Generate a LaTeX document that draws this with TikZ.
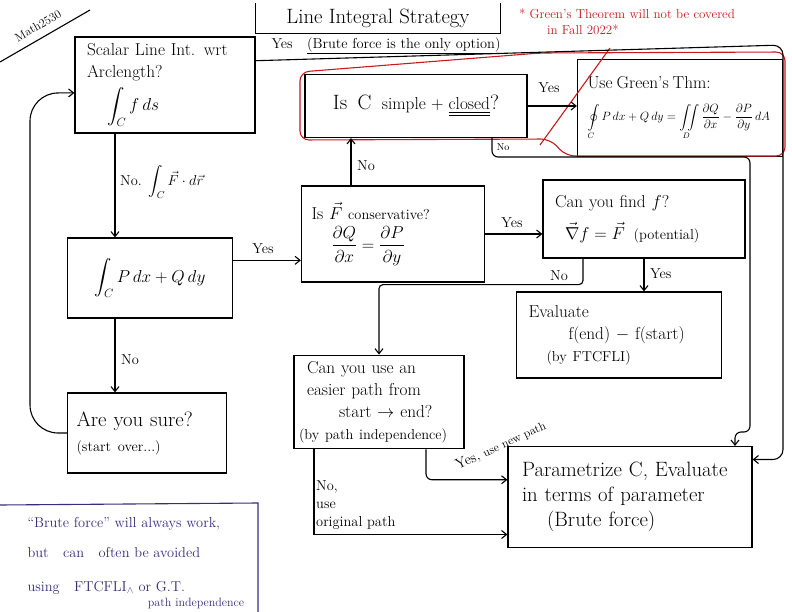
\documentclass[tikz,border=0pt]{standalone}
\usepackage{amsmath}
\usetikzlibrary{arrows.meta}
\definecolor{greenred}{RGB}{200,25,30}
\definecolor{notecolor}{RGB}{55,45,125}
\begin{document}
\begin{tikzpicture}[x=1pt,y=-1pt]
\tikzstyle{box} = [draw, line width=1.2pt, inner sep=6pt, inner xsep=12pt, align=left]
\tikzstyle{arrow} = [-{Straight Barb[length=5pt,width=8pt]}, line width=1.1pt]
\tikzstyle{lab} = [font=\Large, inner sep=1pt]

\useasboundingbox (0,0) rectangle (792,612);

\node[rotate=30, font=\large] (course) at (38,26) {Math2530};
\draw[line width=1.1pt] (0,62) -- (90,10);

\node[minimum width=245, minimum height=30, font=\huge] (title) at (378,18) {Line Integral Strategy};
\draw[line width=1.1pt] (title.north west) |- (title.south east) -- (title.north east);

\node[text=greenred, font=\fontsize{13}{16}\selectfont, align=left] (gnote) at (627,22) {* Green's Theorem will not be covered\\ \hspace*{28pt}in Fall 2022*};

\node[box, minimum width=180, minimum height=96, text width=156, font=\LARGE] (A) at (165,85) {Scalar Line Int. wrt\\ Arclength?\\[5pt] \hspace*{20pt}$\displaystyle\int_C f\,ds$};
\node[box, minimum width=222, minimum height=63, font=\huge] (B) at (416,106) {Is\enspace C\enspace {\LARGE simple + \underline{\underline{closed}}}?};
\node[box, minimum width=205, minimum height=97, text width=185, inner xsep=8pt, font=\large] (C) at (680,108) {{\LARGE Use Green's Thm:}\\[14pt] $\displaystyle\oint\limits_C P\,dx+Q\,dy = \iint\limits_D \frac{\partial Q}{\partial x}-\frac{\partial P}{\partial y}\,dA$};
\node[box, minimum width=183, minimum height=96, text width=163, inner xsep=10pt, font=\LARGE] (D) at (393,234) {Is $\vec F$ {\Large conservative?}\\[6pt] \hspace*{20pt}$\displaystyle\frac{\partial Q}{\partial x} = \frac{\partial P}{\partial y}$};
\node[box, minimum width=165, minimum height=80, font=\LARGE] (E) at (150,278) {$\displaystyle\int_C P\,dx + Q\,dy$};
\node[box, minimum width=202, minimum height=78, text width=178, font=\LARGE] (F) at (644,219) {Can you find $f$?\\[10pt] \hspace*{10pt}$\vec\nabla f = \vec F$\enspace{\Large(potential)}};
\node[box, minimum width=205, minimum height=86, text width=181, font=\LARGE] (G) at (619,335) {Evaluate\\ \hspace*{40pt}f(end) $-$ f(start)\\ \hspace*{18pt}{\Large(by FTCFLI)}};
\node[box, minimum width=170, minimum height=81, text width=160, inner xsep=5pt, font=\LARGE] (H) at (379,402) {\hspace*{8pt}Can you use an\\ \hspace*{8pt}easier path from\\ \hspace*{40pt}start $\to$ end?\\ {\Large(by path independence)}};
\node[box, minimum width=159, minimum height=80, text width=141, inner xsep=9pt, font=\huge] (I) at (147,433) {Are you sure?\\ {\Large(start over...)}};
\node[box, minimum width=244, minimum height=101, text width=216, inner xsep=14pt, font=\huge] (J) at (630,497) {Parametrize C, Evaluate\\ in terms of parameter\\ \hspace*{25pt}(Brute force)};

% red outline round the Green's Theorem part
\draw[greenred, line width=1.1pt, rounded corners=9pt] (300,140) -- (300,72) -- (540,53) -- (785,52) -- (785,156) -- (566,156) -- (550,139) -- cycle;
\draw[greenred, line width=1.1pt] (540,145) -- (610,48);

\draw[arrow, rounded corners=10pt] (A.15) -- (783,45) |- (J.17);
\node[lab] (bruteyes) at (386,46) {Yes\quad{\Large\underline{(Brute force is the only option)}}};

\draw[arrow] (B.east) -- (B.east -| C.west);
\node[lab] (yesC) at (549,88) {Yes};

\coordinate (bno) at ([xshift=76]B.south);
\draw[arrow, rounded corners=6pt] (bno) |- (750,157) -- (750,432) -| ([xshift=105]J.north);
\node[lab, font=\normalsize] (noB) at (503,147) {No};

\coordinate (dtop) at ([xshift=-42]D.north);
\draw[arrow] (dtop) -- (dtop |- B.south);
\node[lab] (noD) at (366,166) {No};

\coordinate (abot) at ([xshift=-50]A.south);
\draw[arrow] (abot) -- (abot |- E.north);
\node[lab, anchor=west] (noA) at (119,182) {No.\enspace$\displaystyle\int_C \vec F\cdot d\vec r$};

\draw[arrow] (E.12) -- (E.12 -| D.west);
\node[lab] (yesE) at (263,249) {Yes};

\draw[arrow] (D.east) -- (D.east -| F.west);
\node[lab] (yesD) at (512,223) {Yes};

\draw[arrow] (F.south) -- (F.south |- G.north);
\node[lab, anchor=west] (yesF) at (649,274) {Yes};

\coordinate (fno) at ([xshift=-61]F.south);
\draw[arrow, rounded corners=4pt] (fno) -- ++(0,26) -| (H.north);
\node[lab] (noF) at (559,276) {No};

\coordinate (ebot) at ([xshift=-35]E.south);
\draw[arrow] (ebot) -- (ebot |- I.north);
\node[lab] (noE) at (130,360) {No};

\coordinate (hyes) at ([xshift=47]H.south);
\draw[arrow, rounded corners=6pt] (hyes) |- (J.172);
\node[lab, rotate=25] (yesH) at (501,446) {Yes, {\large use new path}};

\coordinate (hno) at ([xshift=-65]H.south);
\draw[arrow] (hno) |- (J.197);
\node[lab, font=\Large, anchor=north west, align=left] (noH) at (315,479) {No,\\ use\\ original path};

\draw[arrow, rounded corners=28pt] (I.west) -- (30,433) -- (30,93) -- (A.185);

% note at the bottom left
\draw[notecolor, line width=1.1pt] (0,505) -- (258,503) -- (258,612);
\node[text=notecolor, font=\Large, anchor=north west, align=left] (bnote) at (24,514) {``Brute force'' will always work,\\[12pt] but\quad can\quad often be avoided\\[16pt] using\quad FTCFLI$_{\wedge}$ or G.T.};
\node[text=notecolor, font=\large] (pathind) at (196,603) {path independence};
\end{tikzpicture}
\end{document}
